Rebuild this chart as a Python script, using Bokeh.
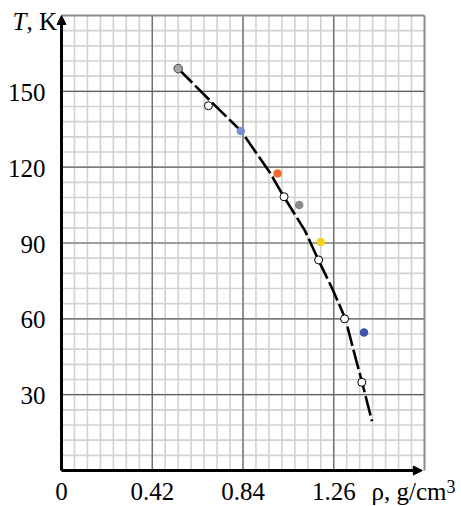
from bokeh.plotting import figure
from bokeh.models import Range1d, Arrow, NormalHead
from bokeh.core.properties import value
from bokeh.embed import file_html
from bokeh.resources import INLINE

# ---- data ----
x_ticks = [0.0, 0.42, 0.84, 1.26]
x_tick_labels = ["0", "0.42", "0.84", "1.26"]
y_ticks = [30, 60, 90, 120, 150]
y_tick_labels = ["30", "60", "90", "120", "150"]
x_max = 1.68
y_max = 180
x_minor_step = 0.06
y_minor_step = 6

# fitted dashed curve
curve_x = [0.540, 0.688, 0.831, 0.965, 1.025, 1.126, 1.189, 1.255, 1.314, 1.352, 1.391, 1.437]
curve_y = [159.0, 146.3, 134.3, 117.8, 108.9, 95.0, 83.3, 71.6, 60.0, 47.4, 34.9, 19.5]

# open (white) points
open_x = [0.68, 1.03, 1.19, 1.31, 1.39]
open_y = [144.3, 108.3, 83.3, 60.0, 34.9]

# coloured points
col_x = [0.83, 1.00, 1.10, 1.20, 1.40]
col_y = [134.3, 117.5, 105.0, 90.4, 54.6]
col_c = ["#7b8fd0", "#f26b2a", "#8a8a8a", "#f7d117", "#3f54a8"]

# first grey point with outline
first_x = [0.54]
first_y = [159.0]

# ---- layout (pixels in the canvas) ----
W, H = 461, 506
LEFT, RIGHT, TOP, BOTTOM = 61, 424, 15, 470
FONT = "Liberation Serif"
FS = "25px"

sx = (RIGHT - LEFT) / x_max
sy = (BOTTOM - TOP) / y_max
x_range = Range1d(-LEFT / sx, x_max + (W - RIGHT) / sx)
y_range = Range1d(-(H - BOTTOM) / sy, y_max + TOP / sy)

p = figure(width=W, height=H, x_range=x_range, y_range=y_range,
           output_backend="svg", toolbar_location=None, min_border=0)
p.axis.visible = False
p.grid.visible = False
p.outline_line_color = None
p.background_fill_color = "white"
p.border_fill_color = "white"

nx = int(round(x_max / x_minor_step))
ny = int(round(y_max / y_minor_step))
x_minor = [i * x_minor_step for i in range(1, nx)]
y_minor = [i * y_minor_step for i in range(1, ny)]

# minor grid
p.segment(x0=x_minor, y0=[0] * len(x_minor), x1=x_minor, y1=[y_max] * len(x_minor),
          line_color="#d2d2d2", line_width=1.6)
p.segment(x0=[0] * len(y_minor), y0=y_minor, x1=[x_max] * len(y_minor), y1=y_minor,
          line_color="#d2d2d2", line_width=1.6)
# major grid
xm = x_ticks[1:]
p.segment(x0=xm, y0=[0] * len(xm), x1=xm, y1=[y_max] * len(xm),
          line_color="#606060", line_width=1.2)
p.segment(x0=[0] * len(y_ticks), y0=y_ticks, x1=[x_max] * len(y_ticks), y1=y_ticks,
          line_color="#606060", line_width=1.2)
# top / right border
p.segment(x0=[0, x_max], y0=[y_max, 0], x1=[x_max, x_max], y1=[y_max, y_max],
          line_color="#8c8c8c", line_width=2)

# dashed fitted curve
p.line(curve_x, curve_y, line_color="black", line_width=2.6, line_dash="20 4")

# points
p.scatter(col_x, col_y, size=8.5, fill_color=col_c, line_color=None)
p.scatter(first_x, first_y, size=8.5, fill_color="#a6a6a6", line_color="#404040", line_width=1)
p.scatter(open_x, open_y, size=8, fill_color="white", line_color="black", line_width=1)

# axes arrows
p.add_layout(Arrow(end=NormalHead(size=9, fill_color="black", line_color="black"),
                   x_start=0, y_start=0, x_end=0, y_end=y_max,
                   line_width=3, line_color="black"))
p.add_layout(Arrow(end=NormalHead(size=9, fill_color="black", line_color="black"),
                   x_start=0, y_start=0, x_end=x_max - 0.01, y_end=0,
                   line_width=3, line_color="black"))

# tick labels
p.text(x=x_ticks, y=[0] * len(x_ticks), text=x_tick_labels, text_align="center",
       text_baseline="middle", y_offset=21, text_font=value(FONT),
       text_font_size=FS, text_color="black")
p.text(x=[0] * len(y_ticks), y=y_ticks, text=y_tick_labels, text_align="right",
       text_baseline="middle", x_offset=-16, y_offset=1, text_font=value(FONT),
       text_font_size=FS, text_color="black")

# axis titles
p.text(x=[0], y=[y_max], text=["T"], x_offset=-49, y_offset=6,
       text_font=value(FONT), text_font_size=FS, text_font_style="italic",
       text_baseline="middle", text_color="black")
p.text(x=[0], y=[y_max], text=[", K"], x_offset=-35, y_offset=6,
       text_font=value(FONT), text_font_size=FS,
       text_baseline="middle", text_color="black")
p.text(x=[x_max], y=[0], text=["ρ, g/cm"], x_offset=-53, y_offset=21,
       text_font=value(FONT), text_font_size=FS,
       text_baseline="middle", text_color="black")
p.text(x=[x_max], y=[0], text=["3"], x_offset=22, y_offset=16,
       text_font=value(FONT), text_font_size="18px",
       text_baseline="middle", text_color="black")

open("out.html", "w").write(file_html(p, INLINE))
